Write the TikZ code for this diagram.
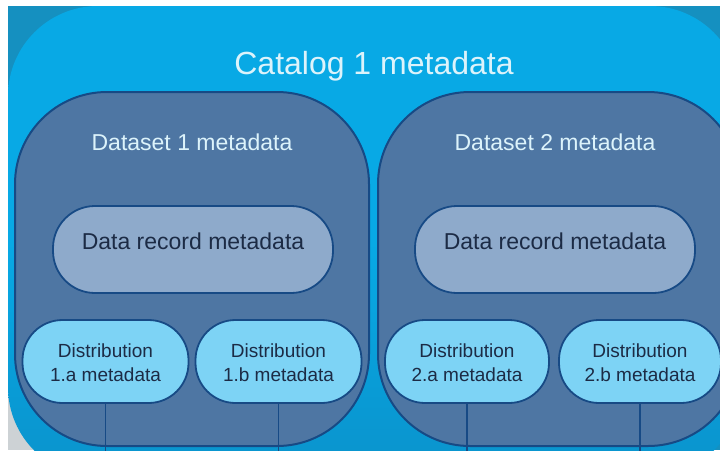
\documentclass[tikz,border=0pt]{standalone}
\usepackage{fontspec}
\setmainfont{Liberation Sans}
\definecolor{bgdark}{HTML}{1590C0}
\definecolor{graycorner}{HTML}{CDD2D5}
\definecolor{catfill}{HTML}{08A9E5}
\definecolor{catlow}{HTML}{0A93CC}
\definecolor{dsfill}{HTML}{4E76A3}
\definecolor{edge}{HTML}{174A85}
\definecolor{recfill}{HTML}{8EAACB}
\definecolor{distfill}{HTML}{7DD3F5}
\definecolor{darktext}{HTML}{1C2B45}
\definecolor{lighttext}{HTML}{DCF3FB}
\tikzset{
  catalogbox/.style={draw=none, top color=catfill, bottom color=catlow, middle color=catfill, rounded corners=90pt, minimum width=732pt, minimum height=471pt, inner sep=0pt},
  datasetbox/.style={draw=edge, line width=2pt, fill=dsfill, rounded corners=92pt, minimum height=354pt, inner sep=0pt},
  recordbox/.style={draw=edge, line width=1.8pt, fill=recfill, rounded corners=42pt, minimum width=280pt, minimum height=87pt, inner sep=0pt},
  distbox/.style={draw=edge, line width=1.8pt, fill=distfill, rounded corners=40pt, minimum width=166pt, minimum height=83pt, inner sep=0pt},
  lighttxt/.style={text=lighttext, anchor=base, inner sep=0pt},
  darktxt/.style={text=darktext, anchor=base, inner sep=0pt, align=center},
  stem/.style={draw=edge, line width=1.5pt}
}
\begin{document}
\begin{tikzpicture}[x=1pt, y=-1pt]
\useasboundingbox (0,0) rectangle (720,450);
\clip (0,0) rectangle (720,450);
% page background
\fill[white] (0,0) rectangle (720,450);
\fill[bgdark] (8,6) rectangle (720,450);
\fill[graycorner] (8,300) rectangle (120,450);
% catalog
\node[catalogbox] (cat) at (374,241.5) {};
\node[lighttxt, font=\fontsize{32}{38}\selectfont] (cattext) at (374,74) {Catalog 1 metadata};
% datasets
\node[datasetbox, minimum width=354pt] (ds1) at (192,269) {};
\node[datasetbox, minimum width=362pt] (ds2) at (559,269) {};
\node[lighttxt, font=\fontsize{23}{28}\selectfont] (ds1text) at (192,150) {Dataset 1 metadata};
\node[lighttxt, font=\fontsize{23}{28}\selectfont] (ds2text) at (555,150) {Dataset 2 metadata};
% data records
\node[recordbox] (rec1) at (193,249.5) {};
\node[recordbox] (rec2) at (555,249.5) {};
\node[darktxt, font=\fontsize{23}{28}\selectfont] (rec1text) at (193,249) {Data record metadata};
\node[darktxt, font=\fontsize{23}{28}\selectfont] (rec2text) at (555,249) {Data record metadata};
% distributions
\node[distbox] (d1a) at (105.5,361.5) {};
\node[distbox] (d1b) at (278.5,361.5) {};
\node[distbox, minimum width=164pt] (d2a) at (467,361.5) {};
\node[distbox, minimum width=162pt] (d2b) at (640,361.5) {};
\coordinate (e1a) at (105.5,455);
\coordinate (e1b) at (278.5,455);
\coordinate (e2a) at (467,455);
\coordinate (e2b) at (640,455);
\draw[stem] (d1a.south) -- (e1a);
\draw[stem] (d1b.south) -- (e1b);
\draw[stem] (d2a.south) -- (e2a);
\draw[stem] (d2b.south) -- (e2b);
\node[darktxt, font=\fontsize{19}{24}\selectfont] (d1atext) at (105.5,381) {Distribution\\1.a metadata};
\node[darktxt, font=\fontsize{19}{24}\selectfont] (d1btext) at (278.5,381) {Distribution\\1.b metadata};
\node[darktxt, font=\fontsize{19}{24}\selectfont] (d2atext) at (467,381) {Distribution\\2.a metadata};
\node[darktxt, font=\fontsize{19}{24}\selectfont] (d2btext) at (640,381) {Distribution\\2.b metadata};
\end{tikzpicture}
\end{document}
